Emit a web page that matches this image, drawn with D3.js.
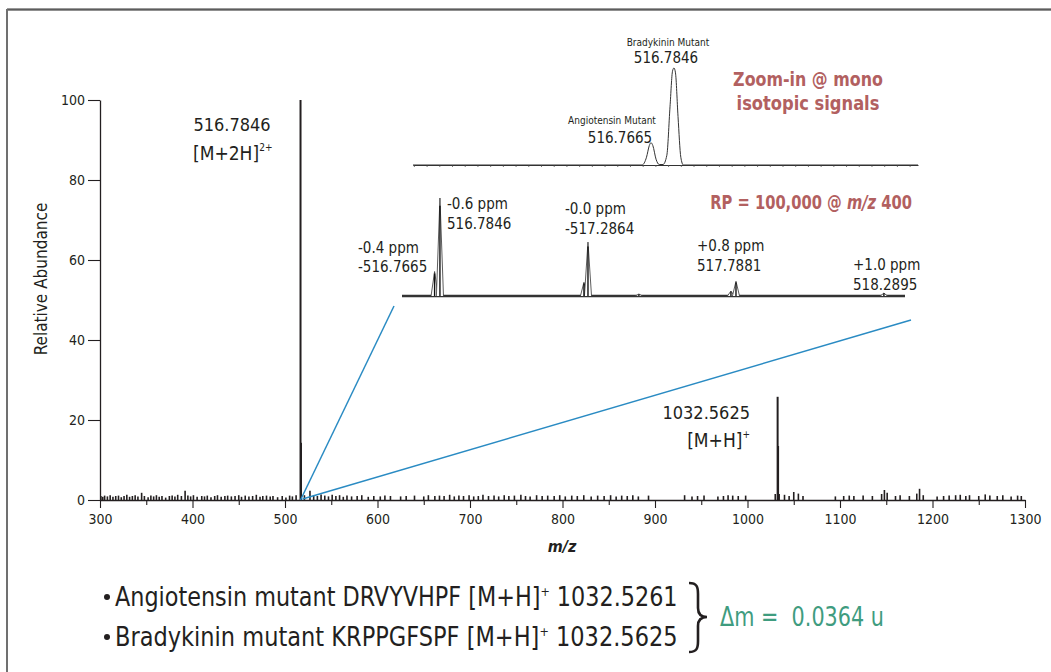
<!DOCTYPE html>
<html>
<head>
<meta charset="utf-8">
<script src="https://cdn.jsdelivr.net/npm/d3@7"></script>
<style>
  body { margin: 0; background: #fff; }
  svg { display: block; }
  text { font-family: 'Liberation Sans Narrow', 'Arial Narrow', 'DejaVu Sans Condensed', sans-serif; fill: #231f20; }
</style>
</head>
<body>
<svg></svg>
<script>
// full spectrum: the two main ions and their isotopes
const mainMz  = [516.7846, 517.29, 1032.5625, 1033.06, 1034.0];
const mainInt = [100, 14.3, 25.8, 13.5, 1.5];

// baseline noise
const noiseMz = [301,303,305,308,311,314,317,320,323,326,329,332,335,338,341,345,348,352,355,358,361,364,367,371,375,378,381,384,388,392,395,398,401,405,410,413,416,420,424,427,431,435,438,442,446,450,453,457,461,465,469,473,476,480,484,487,492,497,501,505,508,512,
  521,527,531,535,539,543,547,551,555,559,563,567,572,578,583,590,596,603,608,614,625,631,640,650,655,662,667,672,678,683,688,693,699,704,709,714,720,726,731,737,742,748,755,760,765,772,778,784,791,797,803,810,816,823,831,838,845,852,858,864,870,876,882,893,932,940,946,953,968,974,979,984,990,998,1030,1040,1045,1050,1055,1060,1095,1104,1110,1115,1125,1135,1145,1148,1151,1160,1165,1175,1183,1186,1190,1205,1212,1218,1225,1230,1236,1240,1250,1257,1262,1270,1276,1285,1292,1296];
const noiseInt = [1.0,0.8,1.1,0.9,1.2,0.8,1.0,1.1,0.7,1.0,1.3,0.8,1.0,1.2,0.9,1.8,1.0,0.7,1.1,0.9,1.2,0.8,1.0,0.6,1.0,1.1,0.9,1.3,1.0,2.3,1.1,0.9,1.2,0.8,1.0,0.9,1.1,0.7,1.0,1.2,0.8,1.0,1.1,0.9,1.0,1.2,0.8,1.1,0.9,1.0,1.3,0.8,1.0,1.1,0.9,1.0,0.7,1.0,0.6,1.1,0.9,1.2,
  1.2,2.3,1.2,1.0,1.4,1.1,0.9,1.3,1.0,1.2,0.8,1.1,0.9,1.0,1.2,0.8,1.0,0.9,1.1,1.0,0.9,1.0,1.1,0.9,1.2,1.0,1.1,1.0,1.3,0.9,1.1,1.0,1.2,0.9,1.0,1.3,1.0,1.1,0.9,1.2,1.0,1.1,1.3,1.0,0.9,1.2,1.0,1.1,1.0,1.2,0.9,1.1,1.0,1.2,0.9,1.1,1.0,1.2,0.9,1.1,1.0,1.2,0.9,1.1,1.2,0.9,1.0,1.1,0.9,1.0,1.2,1.1,1.0,1.1,1.5,1.3,1.0,2.0,1.6,1.0,0.9,1.0,1.1,1.0,1.1,1.0,1.5,2.5,1.8,1.0,1.2,1.0,1.6,2.8,1.2,0.9,1.0,1.1,1.2,1.3,1.0,1.2,1.0,1.4,1.1,1.0,1.2,0.9,1.1,1.0];

const xTicks = [300,400,500,600,700,800,900,1000,1100,1200,1300];
const xMinor = [350,450,550,650,750,850,950,1050,1150,1250];
const yTicks = [0,20,40,60,80,100];

// zoom-in on the mono isotopic signals (profile trace)
const zoomMz  = [516.5793,516.7595,516.7630,516.7652,516.7665,516.7680,516.7705,516.7730,516.7760,516.7790,516.7815,516.7835,516.7846,516.7858,516.7878,516.7900,516.7920,516.9766];
const zoomInt = [0,0,8,20,23,20,6,0.5,0.5,10,60,97,100,95,50,8,0,0];

// isotope cluster at RP 100,000
const rpMz  = [516.7665,516.7846,517.2728,517.2864,517.459,517.771,517.7881,518.2895];
const rpInt = [25,100,14,55,2,5,15,3];

const W = 1051, H = 672;
const svg = d3.select('svg').attr('width', W).attr('height', H);

// squeeze a text horizontally so it spans `w` pixels (keeps its anchor)
function fit(sel, w) {
  const bb = sel.node().getBBox();
  const ax = +sel.attr('x');
  const s = w / bb.width;
  sel.attr('transform', `translate(${ax},0) scale(${s},1) translate(${-ax},0)`);
  return sel;
}

// frame
svg.append('line').attr('x1', 7).attr('x2', W).attr('y1', 9).attr('y2', 9)
   .attr('stroke', '#999').attr('stroke-width', 2);
svg.append('line').attr('x1', 7).attr('x2', W).attr('y1', 10).attr('y2', 10)
   .attr('stroke', '#222').attr('stroke-width', 1.2);
svg.append('line').attr('x1', 7).attr('x2', 7).attr('y1', 9).attr('y2', H)
   .attr('stroke', '#707070').attr('stroke-width', 2);

const x = d3.scaleLinear().domain([300, 1300]).range([100, 1025]);
const y = d3.scaleLinear().domain([0, 100]).range([500, 100]);

// axes
const gx = svg.append('g').attr('transform', 'translate(0,500)')
  .call(d3.axisBottom(x).tickValues(xTicks).tickFormat(d => d).tickSize(8).tickSizeOuter(0).tickPadding(6));
svg.append('g').attr('transform', 'translate(0,500)')
  .call(d3.axisBottom(x).tickValues(xMinor).tickSize(5).tickFormat(''))
  .call(g => g.selectAll('line').attr('stroke', '#231f20').attr('stroke-width', 1.1))
  .select('.domain').remove();
const gy = svg.append('g').attr('transform', 'translate(100,0)')
  .call(d3.axisLeft(y).tickValues(yTicks).tickSize(12).tickSizeOuter(0).tickPadding(3));
[gx, gy].forEach(g => {
  g.selectAll('.domain').attr('stroke', '#231f20').attr('stroke-width', 1.3);
  g.selectAll('.tick line').attr('stroke', '#231f20').attr('stroke-width', 1.1);
  g.selectAll('.tick text').attr('font-size', 14).attr('fill', '#231f20')
    .style('font-family', "'Liberation Sans Narrow','Arial Narrow','DejaVu Sans Condensed',sans-serif");
});

// noise sticks
svg.append('g').selectAll('line').data(noiseMz).join('line')
  .attr('x1', d => x(d)).attr('x2', d => x(d))
  .attr('y1', y(0)).attr('y2', (d, i) => y(noiseInt[i]))
  .attr('stroke', '#231f20').attr('stroke-width', 1.6);

// main peaks
svg.append('g').selectAll('line').data(mainMz).join('line')
  .attr('x1', d => x(d)).attr('x2', d => x(d))
  .attr('y1', y(0)).attr('y2', (d, i) => y(mainInt[i]))
  .attr('stroke', '#231f20').attr('stroke-width', 2);

// axis titles
svg.append('text').attr('transform', 'translate(47,279) rotate(-90)')
   .attr('text-anchor', 'middle').attr('font-size', 17).text('Relative Abundance');
svg.append('text').attr('x', 562).attr('y', 552).attr('text-anchor', 'middle')
   .attr('font-size', 16).attr('font-weight', 'bold').attr('font-style', 'italic').text('m/z');

// main annotations
svg.append('text').attr('x', 232).attr('y', 131).attr('text-anchor', 'middle')
   .attr('font-size', 18).text('516.7846');
const t2 = svg.append('text').attr('x', 193).attr('y', 160).attr('font-size', 19);
t2.append('tspan').text('[M+2H]');
t2.append('tspan').attr('dy', -9).attr('font-size', 10).text('2+');
svg.append('text').attr('x', 750).attr('y', 419).attr('text-anchor', 'end')
   .attr('font-size', 18).text('1032.5625');
const t3 = svg.append('text').attr('x', 750).attr('y', 447).attr('text-anchor', 'end').attr('font-size', 19);
t3.append('tspan').text('[M+H]');
t3.append('tspan').attr('dy', -9).attr('font-size', 10).text('+');

// ---- inset 1: zoom-in profile
const xz = d3.scaleLinear().domain([516.5793, 516.9766]).range([413, 918]);
const yz = d3.scaleLinear().domain([0, 100]).range([165, 68]);
svg.append('g').attr('transform', 'translate(0,165)')
  .call(d3.axisBottom(xz).ticks(40).tickSize(2).tickFormat('').tickSizeOuter(0))
  .call(g => g.selectAll('line').attr('stroke', '#555').attr('stroke-width', 0.8))
  .call(g => g.select('.domain').attr('stroke', '#333').attr('stroke-width', 1.2));
svg.append('path').datum(zoomMz)
  .attr('d', d3.line().x(d => xz(d)).y((d, i) => yz(zoomInt[i])).curve(d3.curveMonotoneX))
  .attr('fill', 'none').attr('stroke', '#333').attr('stroke-width', 1);
svg.append('text').attr('x', 668).attr('y', 46).attr('text-anchor', 'middle').attr('font-size', 10).text('Bradykinin Mutant');
svg.append('text').attr('x', 666).attr('y', 63).attr('text-anchor', 'middle').attr('font-size', 15).text('516.7846');
svg.append('text').attr('x', 612).attr('y', 124).attr('text-anchor', 'middle').attr('font-size', 10).text('Angiotensin Mutant');
svg.append('text').attr('x', 620).attr('y', 143).attr('text-anchor', 'middle').attr('font-size', 15).text('516.7665');
fit(svg.append('text').attr('x', 808).attr('y', 86).attr('text-anchor', 'middle').attr('font-size', 19)
   .attr('font-weight', 'bold').style('fill', '#b26060').text('Zoom-in @ mono'), 150);
fit(svg.append('text').attr('x', 808).attr('y', 110).attr('text-anchor', 'middle').attr('font-size', 19)
   .attr('font-weight', 'bold').style('fill', '#b26060').text('isotopic signals'), 143);

// ---- inset 2: isotope cluster
const xr = d3.scaleLinear().domain([516.656, 518.361]).range([402, 905]);
const yr = d3.scaleLinear().domain([0, 100]).range([296, 198]);
svg.append('line').attr('x1', xr(516.656)).attr('x2', xr(518.361)).attr('y1', 296).attr('y2', 296)
   .attr('stroke', '#333').attr('stroke-width', 2.4);
const half = 0.012;
svg.append('g').selectAll('path').data(rpMz).join('path')
  .attr('d', (d, i) => d3.line()([[xr(d - half), yr(0)], [xr(d), yr(rpInt[i])], [xr(d + half), yr(0)]]))
  .attr('fill', '#fff').attr('stroke', '#333').attr('stroke-width', 0.8);
svg.append('g').selectAll('line').data(rpMz).join('line')
  .attr('x1', d => xr(d)).attr('x2', d => xr(d))
  .attr('y1', yr(0)).attr('y2', (d, i) => yr(rpInt[i] * 0.92))
  .attr('stroke', '#111').attr('stroke-width', 1.4);

const rpText = [
  [358, 253, '-0.4 ppm'], [358, 272, '-516.7665'],
  [447, 209, '-0.6 ppm'], [447, 229, '516.7846'],
  [565, 214, '-0.0 ppm'], [565, 234, '-517.2864'],
  [697, 251, '+0.8 ppm'], [697, 271, '517.7881'],
  [853, 270, '+1.0 ppm'], [853, 290, '518.2895']
];
svg.append('g').selectAll('text').data(rpText).join('text')
  .attr('x', d => d[0]).attr('y', d => d[1]).attr('font-size', 15).text(d => d[2]);
const rp = svg.append('text').attr('x', 912).attr('y', 209).attr('text-anchor', 'end')
   .attr('font-size', 19).attr('font-weight', 'bold').style('fill', '#b26060');
rp.append('tspan').text('RP = 100,000 @ ');
rp.append('tspan').attr('font-style', 'italic').text('m/z');
rp.append('tspan').text(' 400');
fit(rp, 202);

// callout lines
const x0 = x(mainMz[0]), y0 = y(0);
svg.append('line').attr('x1', x0).attr('y1', y0).attr('x2', 394).attr('y2', 306)
   .attr('stroke', '#2a8bc3').attr('stroke-width', 1.5);
svg.append('line').attr('x1', x0 + 2).attr('y1', y0 - 1).attr('x2', 911).attr('y2', 320)
   .attr('stroke', '#2a8bc3').attr('stroke-width', 1.5);

// ---- footnote
const lines = [
  ['Angiotensin mutant DRVYVHPF [M+H]', ' 1032.5261', 606],
  ['Bradykinin mutant KRPPGFSPF [M+H]', ' 1032.5625', 646]
];
lines.forEach(l => {
  svg.append('circle').attr('cx', 107).attr('cy', l[2] - 9).attr('r', 3).attr('fill', '#231f20');
  const t = svg.append('text').attr('x', 115).attr('y', l[2]).attr('font-size', 26);
  t.append('tspan').text(l[0]);
  t.append('tspan').attr('dy', -10).attr('font-size', 13).text('+');
  t.append('tspan').attr('dy', 10).text(l[1]);
  fit(t, 563);
});
// brace
svg.append('path')
   .attr('d', 'M689,583 C697,583 698,587 698,594 L698,608 C698,614 701,617 707,617 C701,617 698,620 698,626 L698,641 C698,648 697,652 689,652')
   .attr('fill', 'none').attr('stroke', '#231f20').attr('stroke-width', 2.6);
fit(svg.append('text').attr('x', 720).attr('y', 626).attr('font-size', 26).style('fill', '#3f9c7f')
   .attr('xml:space', 'preserve').text('\u0394m =  0.0364 u'), 164);
</script>
</body>
</html>
